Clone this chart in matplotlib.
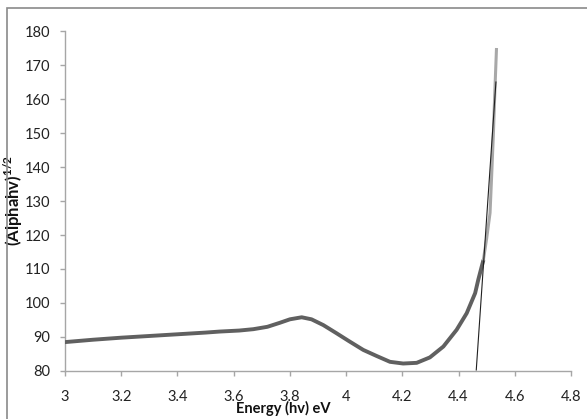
import matplotlib
matplotlib.use("Agg")
import matplotlib.pyplot as plt
from matplotlib.patches import Rectangle

plt.rcParams['font.family'] = ['Lato', 'DejaVu Sans']
plt.rcParams['mathtext.fontset'] = 'custom'
plt.rcParams['mathtext.rm'] = 'Lato'
plt.rcParams['mathtext.bf'] = 'Lato:bold'

# Data
energy_dark = [3.0, 3.1, 3.2, 3.3, 3.4, 3.5, 3.55, 3.62, 3.67, 3.72, 3.765, 3.80, 3.842,
               3.877, 3.919, 3.966, 4.008, 4.061, 4.109, 4.156, 4.203, 4.251, 4.298,
               4.346, 4.393, 4.429, 4.459, 4.47, 4.488]
alpha_dark = [88.5, 89.2, 89.8, 90.3, 90.8, 91.3, 91.6, 91.9, 92.3, 93.0, 94.2, 95.2, 95.8,
              95.2, 93.5, 91.1, 88.9, 86.2, 84.4, 82.7, 82.2, 82.4, 84.0,
              87.2, 92.1, 97.0, 102.9, 106.8, 112.5]
energy_light = [4.488, 4.50, 4.512, 4.518, 4.524, 4.529, 4.535]
alpha_light = [112.5, 119.0, 126.5, 138.0, 150.0, 162.0, 175.0]
fit_energy = [4.463, 4.533]
fit_alpha = [80.3, 165.0]

x_ticks = [3, 3.2, 3.4, 3.6, 3.8, 4, 4.2, 4.4, 4.6, 4.8]
x_tick_labels = ['3', '3.2', '3.4', '3.6', '3.8', '4', '4.2', '4.4', '4.6', '4.8']
y_ticks = [80, 90, 100, 110, 120, 130, 140, 150, 160, 170, 180]

W, H = 587, 419
fig = plt.figure(figsize=(W / 100, H / 100), dpi=100)
ax = fig.add_axes([65 / W, 1 - 371 / H, (571 - 65) / W, (371 - 31) / H])

ax.plot(energy_dark, alpha_dark, color='#606060', lw=2.8, solid_capstyle='round',
        solid_joinstyle='round', zorder=3)
ax.plot(energy_light, alpha_light, color='#a8a8a8', lw=2.2, solid_capstyle='butt',
        solid_joinstyle='round', zorder=3)
ax.plot(fit_energy, fit_alpha, color='#202020', lw=0.8, zorder=4)

ax.set_xlim(3, 4.8)
ax.set_ylim(80, 180)
ax.set_xticks(x_ticks)
ax.set_xticklabels(x_tick_labels)
ax.set_yticks(y_ticks)

for s in ['top', 'right']:
    ax.spines[s].set_visible(False)
for s in ['left', 'bottom']:
    ax.spines[s].set_color('#a6a6a6')
    ax.spines[s].set_linewidth(1.0)
ax.tick_params(axis='both', colors='#a6a6a6', length=3.8, width=1.0, labelsize=10.5,
               labelcolor='#222222', direction='out')
ax.tick_params(axis='x', pad=10)
ax.tick_params(axis='y', pad=7)

ax.set_ylabel(r'(Alphahv)$^{\mathbf{1/2}}$', fontsize=12, fontweight='bold', color='#111111')
ax.yaxis.set_label_coords((25 - 65) / (571 - 65), 0.5)
fig.text(283 / W, 1 - 408 / H, 'Energy (hv) eV', fontsize=10.5, fontweight='bold',
         ha='center', va='center', color='#111111')

# outer chart frame
fig.patches.append(Rectangle((7 / W, -0.05), 1.2, 1 - 8 / H + 0.05, transform=fig.transFigure,
                             fill=False, edgecolor='#8a8a8a', lw=1.2, zorder=0))

fig.savefig('out.png', dpi=100)
